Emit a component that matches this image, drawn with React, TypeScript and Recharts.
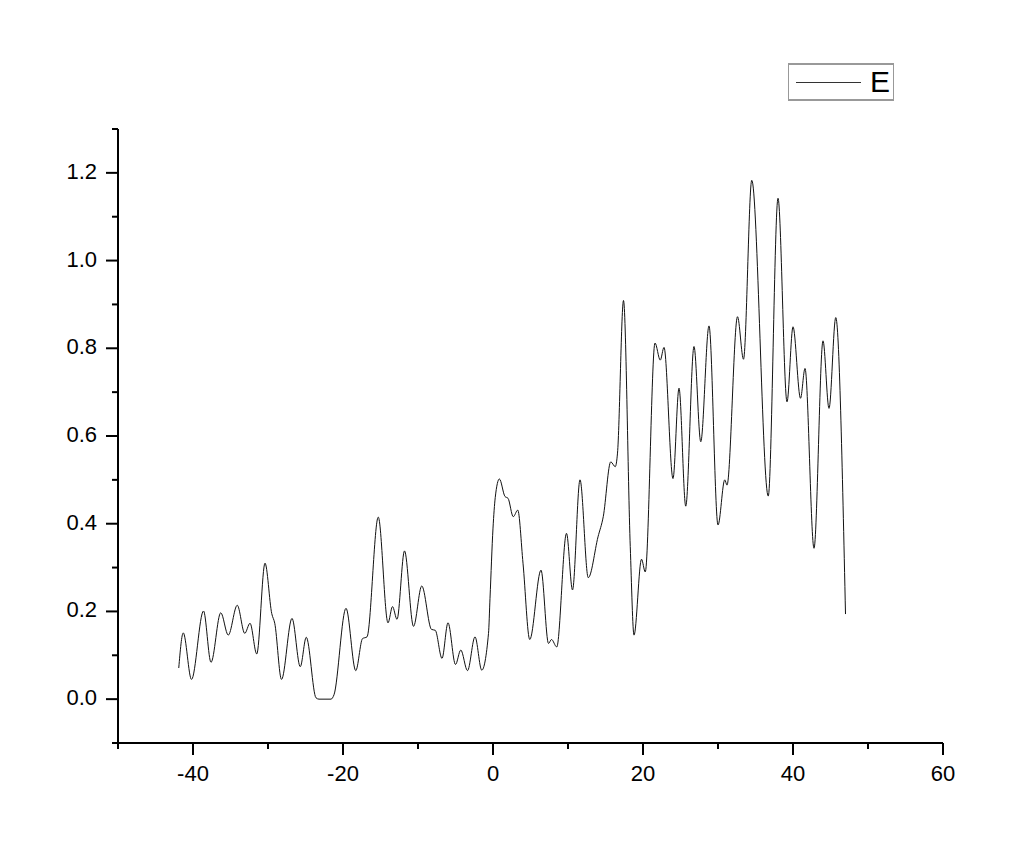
import { Legend, Line, LineChart, XAxis, YAxis } from "recharts";

// (x, E)
const xValues = [
  -41.9, -41.3, -40.2, -38.6, -37.6, -36.3, -35.3, -34.1, -33.1, -32.4, -31.5, -30.4, -29.5, -29.1,
  -28.2, -26.8, -25.7, -24.9, -23.6, -23.2, -21.6, -21.2, -19.6, -18.3, -17.4, -16.8, -15.3, -14.0,
  -13.4, -12.8, -11.8, -10.6, -9.5, -8.2, -7.7, -6.8, -6.0, -5.0, -4.3, -3.4, -2.4, -1.5, -0.6,
  -0.4, 0.0, 0.3, 0.85, 1.6, 2.0, 2.7, 3.3, 4.0, 4.9, 6.4, 7.4, 7.8, 8.5, 9.8, 10.6, 11.6, 12.7,
  14.0, 14.7, 15.7, 16.3, 16.6, 17.4, 18.3, 18.8, 19.8, 20.3, 21.6, 22.3, 22.8, 24.0, 24.8, 25.7,
  26.8, 27.7, 28.8, 30.0, 30.9, 31.2, 32.6, 33.4, 34.5, 36.7, 38.0, 39.2, 40.0, 41.0, 41.6, 42.8,
  44.0, 44.8, 45.7, 47.0,
];
const eValues = [
  0.071, 0.151, 0.045, 0.201, 0.084, 0.197, 0.146, 0.214, 0.15, 0.173, 0.103, 0.31, 0.195, 0.173,
  0.045, 0.184, 0.074, 0.141, 0.003, 0, 0, 0.01, 0.207, 0.065, 0.138, 0.142, 0.415, 0.174,
  0.211, 0.182, 0.338, 0.166, 0.258, 0.159, 0.157, 0.093, 0.174, 0.079, 0.112, 0.065, 0.142, 0.066, 0.15,
  0.23, 0.39, 0.46, 0.502, 0.462, 0.458, 0.416, 0.431, 0.31, 0.136, 0.294, 0.127, 0.136, 0.119, 0.378, 0.249, 0.5, 0.277,
  0.37, 0.416, 0.541, 0.53, 0.561, 0.909, 0.348, 0.146, 0.319, 0.29, 0.812, 0.773, 0.802, 0.503, 0.709, 0.44,
  0.804, 0.587, 0.851, 0.397, 0.5, 0.488, 0.872, 0.775, 1.183, 0.463, 1.142, 0.678, 0.849, 0.686, 0.754, 0.344,
  0.817, 0.663, 0.87, 0.194,
];

const xTicks = [-50, -40, -30, -20, -10, 0, 10, 20, 30, 40, 50, 60];
const yTicks = [-0.1, 0, 0.1, 0.2, 0.3, 0.4, 0.5, 0.6, 0.7, 0.8, 0.9, 1.0, 1.1, 1.2, 1.3];

const data = xValues.map((x, i) => ({ x, E: eValues[i] }));

const FONT = "'Liberation Sans', Arial, sans-serif";

function XTick({ x, y, payload }: any) {
  const major = payload.value % 20 === 0;
  return (
    <g>
      <line x1={x} y1={y} x2={x} y2={y + (major ? 12 : 6)} stroke="#000" strokeWidth={2} />
      {major && (
        <text x={x} y={y + 38} textAnchor="middle" fontSize={22} fontFamily={FONT} fill="#000">
          {payload.value}
        </text>
      )}
    </g>
  );
}

function YTick({ x, y, payload }: any) {
  const major = Math.round(payload.value * 10) % 2 === 0;
  return (
    <g>
      <line x1={x - (major ? 12 : 6)} y1={y} x2={x} y2={y} stroke="#000" strokeWidth={2} />
      {major && (
        <text x={x - 21} y={y + 6} textAnchor="end" fontSize={22} fontFamily={FONT} fill="#000">
          {payload.value.toFixed(1)}
        </text>
      )}
    </g>
  );
}

function LegendBox() {
  return (
    <div
      style={{
        width: 104,
        height: 34,
        borderTop: "2px solid #999",
        borderBottom: "2px solid #999",
        borderLeft: "1px solid #999",
        borderRight: "1px solid #999",
        background: "#fff",
        position: "relative",
        fontFamily: FONT,
      }}
    >
      <div style={{ position: "absolute", left: 7, top: 17, width: 65, height: 1, background: "#333" }} />
      <div style={{ position: "absolute", left: 81, top: 1, fontSize: 30, lineHeight: "32px", color: "#000" }}>E</div>
    </div>
  );
}

export default function App() {
  return (
    <div style={{ position: "absolute", left: 0, top: 0, width: 1024, height: 858, background: "#fff" }}>
      <LineChart width={1024} height={858} data={data} margin={{ top: 129, right: 81, left: 58, bottom: 55 }}>
        <XAxis
          dataKey="x"
          type="number"
          domain={[-50, 60]}
          ticks={xTicks}
          interval={0}
          height={60}
          tickSize={0}
          tickMargin={0}
          tick={<XTick />}
          axisLine={{ stroke: "#000", strokeWidth: 2 }}
          allowDataOverflow
        />
        <YAxis
          type="number"
          domain={[-0.1, 1.3]}
          ticks={yTicks}
          interval={0}
          width={60}
          tickSize={0}
          tickMargin={0}
          tick={<YTick />}
          axisLine={{ stroke: "#000", strokeWidth: 2 }}
          allowDataOverflow
        />
        <Legend
          layout="horizontal"
          align="center"
          verticalAlign="middle"
          wrapperStyle={{ left: 788, top: 63, width: 106, height: 38 }}
          content={() => <LegendBox />}
        />
        <Line
          type="monotone"
          dataKey="E"
          stroke="#111"
          strokeWidth={1}
          dot={false}
          isAnimationActive={false}
        />
      </LineChart>
    </div>
  );
}
